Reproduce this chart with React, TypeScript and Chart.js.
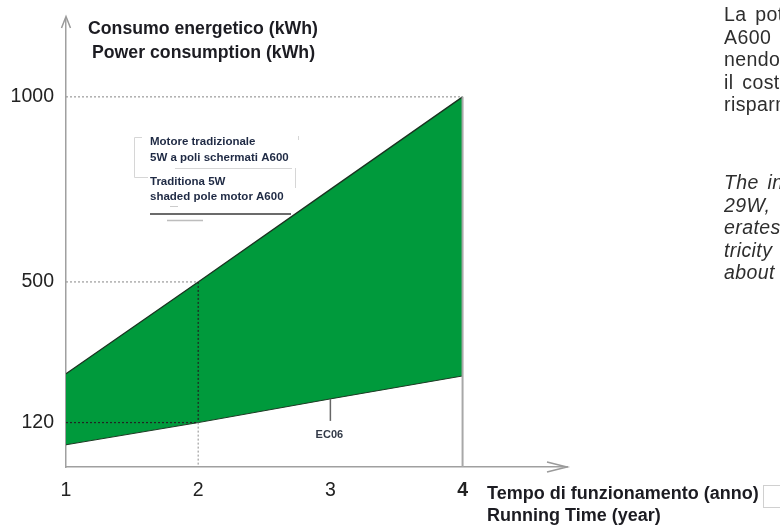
import React, { useEffect, useRef } from 'react';
import { Chart, registerables } from 'chart.js';

Chart.register(...registerables);

// ---- data ----
const years = [1, 2, 3, 4];
const xTickLabels = ['1', '2', '3', '4'];
const traditionalKWh = [252, 500, 750, 1000];
const ec06KWh = [60, 120, 184, 246];
const yTickValues = [120, 500, 1000];
const yTitleLines = ['Consumo energetico (kWh)', 'Power consumption (kWh)'];
const xTitleLines = ['Tempo di funzionamento (anno)', 'Running Time (year)'];
const legendItalian = ['Motore tradizionale', '5W a poli schermati A600'];
const legendEnglish = ['Traditiona 5W', 'shaded pole motor A600'];
const ec06Label = 'EC06';
const sideTextItalian = ['La potenza', 'A600', 'nendo', 'il costo', 'risparmio'];
const sideTextEnglish = ['The input', '29W,', 'erates', 'tricity', 'about'];

const SANS = '"Liberation Sans", Arial, sans-serif';

const decorPlugin = {
  id: 'decor',
  afterDraw(chart: any) {
    const { ctx, chartArea: a } = chart;
    const xs = chart.scales.x;
    const ys = chart.scales.y;
    const px = (v: number) => xs.getPixelForValue(v);
    const py = (v: number) => ys.getPixelForValue(v);
    ctx.save();

    const line = (x1: number, y1: number, x2: number, y2: number, color: string, w: number, dash: number[] = []) => {
      ctx.beginPath();
      ctx.setLineDash(dash);
      ctx.strokeStyle = color;
      ctx.lineWidth = w;
      ctx.moveTo(x1, y1);
      ctx.lineTo(x2, y2);
      ctx.stroke();
      ctx.setLineDash([]);
    };

    // dotted guides
    const dash = [2, 2];
    line(a.left, py(yTickValues[2]), px(years[3]), py(yTickValues[2]), '#9a9a9a', 1.2, dash);
    line(a.left, py(yTickValues[1]), px(years[1]), py(yTickValues[1]), '#9a9a9a', 1.2, dash);
    line(px(years[1]), py(yTickValues[1]), px(years[1]), py(ec06KWh[1]), '#222222', 1.2, dash);
    line(px(years[1]), py(ec06KWh[1]), px(years[1]), a.bottom, '#a0a0a0', 1.2, dash);
    line(a.left, py(yTickValues[0]), px(years[1]), py(yTickValues[0]), '#222222', 1.2, dash);

    // solid vertical at year 4
    line(px(years[3]), py(traditionalKWh[3]), px(years[3]), a.bottom, '#a8a8a8', 2);

    // arrows
    ctx.beginPath();
    ctx.strokeStyle = '#9a9a9a';
    ctx.lineWidth = 1.5;
    ctx.moveTo(a.left - 4.5, a.top + 10);
    ctx.lineTo(a.left, a.top - 1.5);
    ctx.lineTo(a.left + 4.5, a.top + 10);
    ctx.moveTo(a.right - 20, a.bottom - 5);
    ctx.lineTo(a.right, a.bottom);
    ctx.lineTo(a.right - 20, a.bottom + 5);
    ctx.stroke();

    // axis titles
    ctx.fillStyle = '#1c1c22';
    ctx.textBaseline = 'middle';
    ctx.textAlign = 'left';
    ctx.font = 'bold 17.7px ' + SANS;
    ctx.fillText(yTitleLines[0], a.left + 22, 29);
    ctx.fillText(yTitleLines[1], a.left + 26, 53);
    ctx.font = 'bold 18px ' + SANS;
    ctx.fillText(xTitleLines[0], 487, 494);
    ctx.fillText(xTitleLines[1], 487, 516);

    // small box at bottom right
    ctx.strokeStyle = '#d0d0d0';
    ctx.lineWidth = 1;
    ctx.strokeRect(763.5, 485.5, 22, 22);

    // legend annotation (faint box fragments)
    const lx = a.left + 84;
    ctx.strokeStyle = '#d6d6d6';
    ctx.lineWidth = 1;
    ctx.beginPath();
    ctx.moveTo(lx - 8, 137.5); ctx.lineTo(lx - 15.5, 137.5); ctx.lineTo(lx - 15.5, 177.5); ctx.lineTo(lx - 2, 177.5);
    ctx.moveTo(lx + 25, 168.5); ctx.lineTo(lx + 142, 168.5);
    ctx.moveTo(lx + 145.5, 168); ctx.lineTo(lx + 145.5, 188);
    ctx.moveTo(lx + 148.5, 136); ctx.lineTo(lx + 148.5, 140);
    ctx.stroke();

    ctx.fillStyle = '#1f2a44';
    ctx.font = 'bold 11.5px ' + SANS;
    ctx.fillText(legendItalian[0], lx, 142);
    ctx.fillText(legendItalian[1], lx, 158);
    ctx.fillText(legendEnglish[0], lx, 182);
    ctx.fillText(legendEnglish[1], lx, 197);
    line(lx, 214, lx + 141, 214, '#3a3a3a', 1.5);
    line(lx + 17, 220.5, lx + 53, 220.5, '#bdbdbd', 1.5);
    line(lx + 20, 206.5, lx + 28, 206.5, '#cccccc', 1);

    // EC06 label with leader line
    const ex = px(years[2]);
    const ey = py(ec06KWh[2]);
    line(ex, ey, ex, ey + 22, '#666666', 1.5);
    ctx.fillStyle = '#333a48';
    ctx.font = 'bold 11px ' + SANS;
    ctx.textAlign = 'center';
    ctx.fillText(ec06Label, ex - 1, ey + 36);

    ctx.restore();
  },
};

export default function App() {
  const ref = useRef<HTMLCanvasElement>(null);

  useEffect(() => {
    document.body.style.margin = '0';
    const canvas = ref.current!;
    const chart = new Chart(canvas, {
      type: 'line',
      data: {
        datasets: [
          {
            label: 'EC06',
            data: years.map((v, i) => ({ x: v, y: ec06KWh[i] })),
            borderColor: '#1d3a24',
            borderWidth: 1,
            pointRadius: 0,
            fill: false,
            tension: 0,
          },
          {
            label: 'A600',
            data: years.map((v, i) => ({ x: v, y: traditionalKWh[i] })),
            borderColor: '#1a3320',
            borderWidth: 1.3,
            pointRadius: 0,
            fill: '-1',
            backgroundColor: '#009a3c',
            tension: 0,
          },
        ],
      },
      options: {
        responsive: false,
        animation: false,
        devicePixelRatio: 1,
        layout: { padding: { left: 0, right: 213, top: 18, bottom: 0 } },
        plugins: {
          legend: { display: false },
          tooltip: { enabled: false },
          title: { display: false },
        },
        scales: {
          x: {
            type: 'linear',
            min: 1,
            max: 4.79,
            z: 1,
            afterBuildTicks: (s: any) => {
              s.ticks = years.map((v) => ({ value: v }));
            },
            afterFit: (s: any) => {
              s.height = 60;
              s.paddingLeft = 0;
              s.paddingRight = 0;
            },
            grid: { display: false, drawTicks: false },
            border: { display: true, color: '#a0a0a0', width: 1.5 },
            ticks: {
              autoSkip: false,
              maxRotation: 0,
              padding: 12,
              color: '#222222',
              font: (c: any) => ({
                family: SANS,
                size: 19.5,
                weight: c.tick && c.tick.value === 4 ? 'bold' : 'normal',
              }),
              callback: (_v: any, i: number) => xTickLabels[i],
            },
          },
          y: {
            type: 'linear',
            min: 0,
            max: 1213,
            z: 1,
            afterBuildTicks: (s: any) => {
              s.ticks = yTickValues.map((v) => ({ value: v }));
            },
            afterFit: (s: any) => {
              s.width = 66;
              s.paddingTop = 0;
              s.paddingBottom = 0;
            },
            grid: { display: false, drawTicks: false },
            border: { display: true, color: '#a0a0a0', width: 1.5 },
            ticks: {
              autoSkip: false,
              padding: 12,
              color: '#222222',
              font: { family: SANS, size: 19.5 },
              callback: (v: any) => String(v),
            },
          },
        },
      } as any,
      plugins: [decorPlugin],
    });
    return () => chart.destroy();
  }, []);

  const textStyle: React.CSSProperties = {
    position: 'absolute',
    left: 724,
    fontFamily: SANS,
    fontSize: 19.5,
    lineHeight: '22.5px',
    letterSpacing: 0.4,
    wordSpacing: 3,
    color: '#2e2e2e',
    whiteSpace: 'nowrap',
  };

  return (
    <div
      style={{
        position: 'fixed',
        left: 0,
        top: 0,
        width: 780,
        height: 527,
        overflow: 'hidden',
        background: '#ffffff',
      }}
    >
      <canvas ref={ref} width={780} height={527} style={{ display: 'block' }} />
      <div style={{ ...textStyle, top: 3 }}>
        {sideTextItalian.map((t) => (
          <div key={t}>{t}</div>
        ))}
      </div>
      <div style={{ ...textStyle, top: 171, fontStyle: 'italic' }}>
        {sideTextEnglish.map((t) => (
          <div key={t}>{t}</div>
        ))}
      </div>
    </div>
  );
}
